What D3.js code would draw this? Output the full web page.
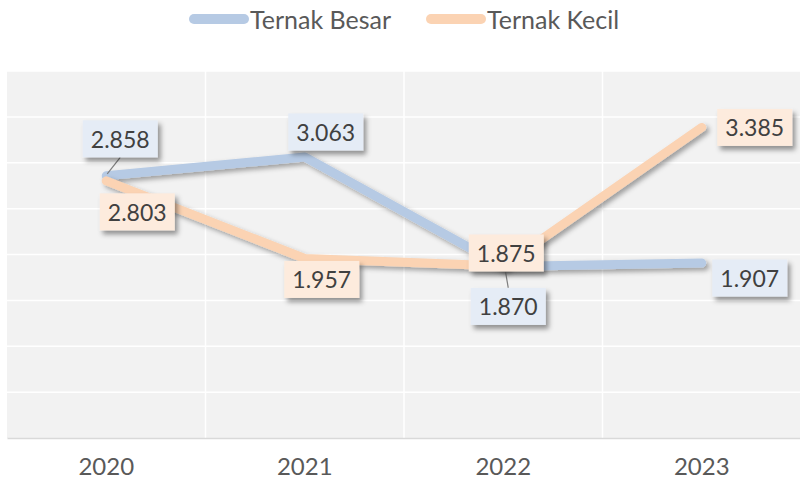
<!DOCTYPE html>
<html>
<head>
<meta charset="utf-8">
<script src="https://cdn.jsdelivr.net/npm/d3@7"></script>
<style>
  html, body { margin: 0; padding: 0; background: #ffffff; }
  svg { display: block; }
  text { font-family: Lato, "Noto Sans", sans-serif; }
</style>
</head>
<body>
<div id="chart"></div>
<script>
// Jumlah ternak per tahun
const years = ["2020", "2021", "2022", "2023"];
const ternakBesar = [2.858, 3.063, 1.870, 1.907];
const ternakKecil = [2.803, 1.957, 1.875, 3.385];
const seriesNames = ["Ternak Besar", "Ternak Kecil"];
const yTicks = [0, 0.5, 1, 1.5, 2, 2.5, 3, 3.5, 4];

const W = 800, H = 481;
const plot = { left: 7, right: 801, top: 71, bottom: 438 };

const lineColors = ["#b6cae4", "#fbd3b3"];
const boxColors = ["#e5ecf6", "#fdebdd"];

// Label box offsets (pixels from each point) and whether a leader line is drawn
const labelOffsets = [
  [[14, -37], [21, -25], [5, 40], [48, 15]],
  [[31, 31], [17, 21], [3, -13], [53, 0]]
];
const labelLeaders = [
  [true, false, true, false],
  [false, false, false, false]
];

const svg = d3.select("#chart").append("svg")
  .attr("width", W).attr("height", H);

const defs = svg.append("defs");
const lineShadow = defs.append("filter").attr("id", "lineShadow")
  .attr("x", "-10%").attr("y", "-30%").attr("width", "130%").attr("height", "160%");
lineShadow.append("feDropShadow")
  .attr("dx", 3).attr("dy", 3).attr("stdDeviation", 2.5)
  .attr("flood-color", "#000").attr("flood-opacity", 0.35);

const boxShadow = defs.append("filter").attr("id", "boxShadow")
  .attr("x", "-20%").attr("y", "-30%").attr("width", "150%").attr("height", "170%");
boxShadow.append("feDropShadow")
  .attr("dx", 3).attr("dy", 4).attr("stdDeviation", 2.5)
  .attr("flood-color", "#000").attr("flood-opacity", 0.4);

const x = d3.scaleBand().domain(years).range([plot.left, plot.right]);
const y = d3.scaleLinear().domain([0, 4]).range([plot.bottom, plot.top]);

// Plot background
svg.append("rect")
  .attr("x", plot.left).attr("y", plot.top)
  .attr("width", plot.right - plot.left).attr("height", plot.bottom - plot.top)
  .attr("fill", "#f2f2f2");

// Horizontal gridlines
svg.append("g").selectAll("line").data(yTicks.slice(1)).join("line")
  .attr("x1", plot.left).attr("x2", plot.right)
  .attr("y1", d => y(d)).attr("y2", d => y(d))
  .attr("stroke", "#ffffff").attr("stroke-width", 1.5);

// Vertical gridlines between categories
svg.append("g").selectAll("line").data(years.slice(1)).join("line")
  .attr("x1", d => x(d)).attr("x2", d => x(d))
  .attr("y1", plot.top).attr("y2", plot.bottom)
  .attr("stroke", "#ffffff").attr("stroke-width", 1.5);

// X axis
const xAxis = svg.append("g")
  .attr("transform", `translate(0,${plot.bottom})`)
  .call(d3.axisBottom(x).tickSize(0).tickPadding(20));
xAxis.select(".domain").attr("stroke", "#d9d9d9").attr("stroke-width", 1.5);
xAxis.selectAll("text")
  .attr("fill", "#595959").style("font-size", "24px")
  .style("font-family", "Lato, 'Noto Sans', sans-serif");

const allSeries = [ternakBesar, ternakKecil];
const line = d3.line()
  .x((d, i) => x(years[i]) + x.bandwidth() / 2)
  .y(d => y(d));

// Lines
allSeries.forEach((vals, s) => {
  svg.append("path")
    .datum(vals)
    .attr("d", line)
    .attr("fill", "none")
    .attr("stroke", lineColors[s])
    .attr("stroke-width", 9)
    .attr("stroke-linecap", "round")
    .attr("stroke-linejoin", "round")
    .attr("filter", "url(#lineShadow)");
});

// Data labels
const boxW = 75, boxH = 37;
const fmt = d3.format(".3f");
allSeries.forEach((vals, s) => {
  const g = svg.append("g");
  vals.forEach((v, i) => {
    const px = x(years[i]) + x.bandwidth() / 2;
    const py = y(v);
    const cx = px + labelOffsets[s][i][0];
    const cy = py + labelOffsets[s][i][1];
    if (labelLeaders[s][i]) {
      const edgeY = cy > py ? cy - boxH / 2 : cy + boxH / 2;
      g.append("line")
        .attr("x1", cx).attr("y1", edgeY)
        .attr("x2", px + 1).attr("y2", py - 2)
        .attr("stroke", "#7f7f7f").attr("stroke-width", 1.2);
    }
    g.append("rect")
      .attr("x", cx - boxW / 2).attr("y", cy - boxH / 2)
      .attr("width", boxW).attr("height", boxH)
      .attr("fill", boxColors[s])
      .attr("filter", "url(#boxShadow)");
    g.append("text")
      .attr("x", cx).attr("y", cy)
      .attr("text-anchor", "middle")
      .attr("dominant-baseline", "central")
      .attr("fill", "#404040")
      .style("font-size", "23px")
      .text(fmt(v));
  });
});

// Legend
const legendItems = [
  { name: seriesNames[0], color: lineColors[0], x: 189 },
  { name: seriesNames[1], color: lineColors[1], x: 426 }
];
const legend = svg.append("g");
legendItems.forEach(it => {
  legend.append("line")
    .attr("x1", it.x + 5).attr("x2", it.x + 55)
    .attr("y1", 19).attr("y2", 19)
    .attr("stroke", it.color).attr("stroke-width", 10)
    .attr("stroke-linecap", "round");
  legend.append("text")
    .attr("x", it.x + 61).attr("y", 19)
    .attr("dominant-baseline", "central")
    .attr("fill", "#595959")
    .style("font-size", "25px")
    .text(it.name);
});
</script>
</body>
</html>
